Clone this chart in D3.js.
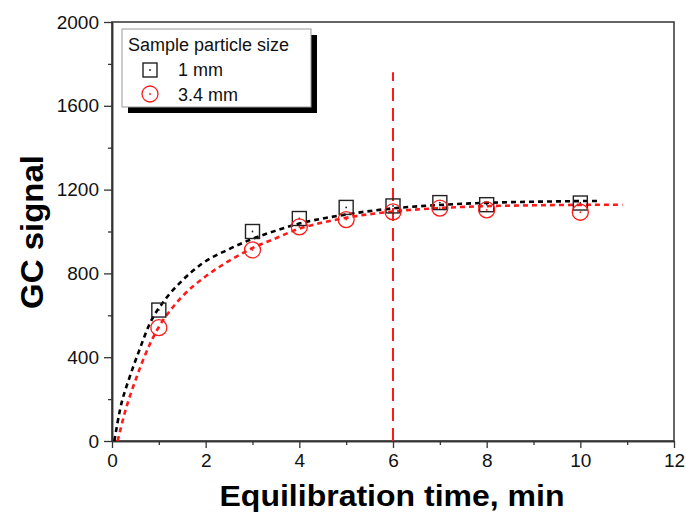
<!DOCTYPE html>
<html>
<head>
<meta charset="utf-8">
<script src="https://cdn.jsdelivr.net/npm/d3@7"></script>
<style>
  html, body { margin: 0; padding: 0; background: #fff; }
  svg { display: block; font-family: Arial, "Liberation Sans", Helvetica, sans-serif; }
</style>
</head>
<body>
<svg id="chart" width="686" height="515"></svg>
<script>
// ---- data ----
const timeMin = [1, 3, 4, 5, 6, 7, 8, 10];
const signal1mm = [625, 1000, 1062, 1115, 1122, 1138, 1128, 1136];
const signal34mm = [541, 912, 1022, 1057, 1094, 1112, 1103, 1092];

// fitted curves
const fit1mmX = [0.05, 0.17, 0.38, 0.56, 0.81, 1.1, 1.5, 1.92, 2.5, 3, 3.5, 3.95, 4.94, 5.94, 6.94, 8, 9, 10.4];
const fit1mmY = [0, 148, 307, 419, 562, 665, 766, 846, 916, 965, 1004, 1035, 1079, 1109, 1126, 1137, 1142, 1146];
const fit34mmX = [0.12, 0.28, 0.53, 0.71, 1, 1.24, 1.5, 1.99, 2.5, 2.99, 3.5, 3.87, 4.87, 5.94, 7, 8, 9, 10.9];
const fit34mmY = [0, 140, 308, 412, 545, 622, 690, 784, 860, 920, 968, 1003, 1060, 1094, 1112, 1121, 1125, 1128];

const markerLineX = [6, 6];
const markerLineY = [0, 1760];

const xTicks = [0, 2, 4, 6, 8, 10, 12];
const xMinorTicks = [1, 3, 5, 7, 9, 11];
const yTicks = [0, 400, 800, 1200, 1600, 2000];
const yMinorTicks = [200, 600, 1000, 1400, 1800];

const legendTitle = "Sample particle size";
const seriesNames = ["1 mm", "3.4 mm"];
const xTitle = "Equilibration time, min";
const yTitle = "GC signal";

// ---- layout ----
const svg = d3.select("#chart");
const L = 112, R = 674, T = 22, B = 441;
const x = d3.scaleLinear().domain([0, 12]).range([L, R]);
const y = d3.scaleLinear().domain([0, 2000]).range([B, T]);
const axisColor = "#333";

// frame
svg.append("rect").attr("x", L).attr("y", T).attr("width", R - L).attr("height", B - T)
  .attr("fill", "none").attr("stroke", axisColor).attr("stroke-width", 1.5);

// axes
svg.append("g").attr("transform", `translate(0,${B})`)
  .call(d3.axisBottom(x).tickValues(xTicks).tickSize(7).tickSizeOuter(0).tickPadding(6).tickFormat(d3.format("d")));
svg.append("g").attr("transform", `translate(0,${B})`)
  .call(d3.axisBottom(x).tickValues(xMinorTicks).tickSize(4).tickSizeOuter(0).tickFormat(""));
svg.append("g").attr("transform", `translate(${L},0)`)
  .call(d3.axisLeft(y).tickValues(yTicks).tickSize(8).tickSizeOuter(0).tickPadding(5).tickFormat(d3.format("d")));
svg.append("g").attr("transform", `translate(${L},0)`)
  .call(d3.axisLeft(y).tickValues(yMinorTicks).tickSize(4).tickSizeOuter(0).tickFormat(""));

svg.selectAll(".domain").attr("stroke", axisColor).attr("stroke-width", 1.5);
svg.selectAll(".tick line").attr("stroke", axisColor).attr("stroke-width", 1.3);
svg.selectAll(".tick text").attr("fill", "#111").style("font-size", "19px")
  .style("font-family", "Arial, 'Liberation Sans', sans-serif");

// titles
svg.append("text").attr("x", (L + R) / 2 - 1).attr("y", 506)
  .attr("text-anchor", "middle").style("font-size", "29px").style("font-weight", "bold")
  .attr("textLength", 345).attr("lengthAdjust", "spacingAndGlyphs")
  .attr("fill", "#000").text(xTitle);
svg.append("text").attr("transform", `translate(43,232) rotate(-90)`)
  .attr("text-anchor", "middle").style("font-size", "32px").style("font-weight", "bold")
  .attr("textLength", 154).attr("lengthAdjust", "spacingAndGlyphs")
  .attr("fill", "#000").text(yTitle);

// fit curves
const line = d3.line().x(d => x(d[0])).y(d => y(d[1])).curve(d3.curveMonotoneX);
svg.append("path").datum(fit1mmX.map((v, i) => [v, fit1mmY[i]]))
  .attr("d", line).attr("fill", "none").attr("stroke", "#000")
  .attr("stroke-width", 2.6).attr("stroke-dasharray", "5,4");
svg.append("path").datum(fit34mmX.map((v, i) => [v, fit34mmY[i]]))
  .attr("d", line).attr("fill", "none").attr("stroke", "#ff1a1a")
  .attr("stroke-width", 2.6).attr("stroke-dasharray", "5,4");

// vertical marker line
svg.append("line").attr("x1", x(markerLineX[0])).attr("x2", x(markerLineX[1]))
  .attr("y1", y(markerLineY[0])).attr("y2", y(markerLineY[1]))
  .attr("stroke", "#ff1a1a").attr("stroke-width", 2).attr("stroke-dasharray", "13,7");

// markers
function drawSquare(g, cx, cy) {
  g.append("rect").attr("x", cx - 7).attr("y", cy - 7).attr("width", 14).attr("height", 14)
    .attr("fill", "none").attr("stroke", "#222").attr("stroke-width", 1.4);
  g.append("circle").attr("cx", cx).attr("cy", cy).attr("r", 0.9).attr("fill", "#222");
}
function drawCircle(g, cx, cy) {
  g.append("circle").attr("cx", cx).attr("cy", cy).attr("r", 8)
    .attr("fill", "none").attr("stroke", "#ff1a1a").attr("stroke-width", 1.3);
  g.append("circle").attr("cx", cx).attr("cy", cy).attr("r", 0.9).attr("fill", "#ff1a1a");
}
const gMarks = svg.append("g");
timeMin.forEach((t, i) => drawSquare(gMarks, x(t), y(signal1mm[i])));
timeMin.forEach((t, i) => drawCircle(gMarks, x(t), y(signal34mm[i])));

// legend
const lg = svg.append("g");
lg.append("rect").attr("x", 128).attr("y", 35).attr("width", 189).attr("height", 78).attr("fill", "#000");
lg.append("rect").attr("x", 122).attr("y", 29).attr("width", 189).attr("height", 78)
  .attr("fill", "#fff").attr("stroke", "#999").attr("stroke-width", 1);
lg.append("text").attr("x", 128).attr("y", 51).style("font-size", "18px").attr("fill", "#111").text(legendTitle);
drawSquare(lg, 150, 70);
drawCircle(lg, 150, 94);
lg.append("text").attr("x", 178).attr("y", 76).style("font-size", "18px").attr("fill", "#111").text(seriesNames[0]);
lg.append("text").attr("x", 178).attr("y", 101).style("font-size", "18px").attr("fill", "#111").text(seriesNames[1]);
</script>
</body>
</html>
